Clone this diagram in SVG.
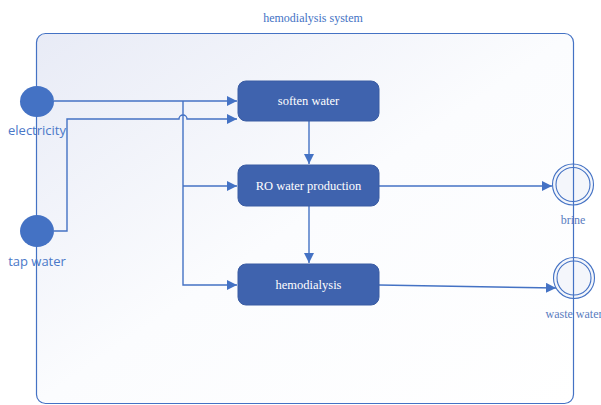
<svg xmlns="http://www.w3.org/2000/svg" width="601" height="405" viewBox="0 0 601 405">
<defs>
<linearGradient id="bg" x1="0" y1="0" x2="1" y2="1">
<stop offset="0" stop-color="#e8ebf6"/>
<stop offset="0.5" stop-color="#fbfcfe"/>
<stop offset="1" stop-color="#ffffff"/>
</linearGradient>
<marker id="arr" viewBox="0 0 10 10" refX="10" refY="5" markerWidth="10" markerHeight="10" markerUnits="userSpaceOnUse" orient="auto">
<path d="M0,0 L10,5 L0,10 z" fill="#4472c4"/>
</marker>
<style>
.box{fill:#3f63ae;stroke:#3a5ca3;stroke-width:1}
.bt{font-family:"Liberation Serif",serif;font-size:12.5px;fill:#ffffff;text-anchor:middle}
.lbl{font-family:"Open Sans","Noto Sans",sans-serif;font-size:13px;fill:#4a78c8;text-anchor:middle}
.slbl{font-family:"Liberation Serif",serif;font-size:12px;fill:#5a7cc0;text-anchor:middle}
.ln{fill:none;stroke:#4472c4;stroke-width:1.4}
.end{fill:#f4f6fb;stroke:#4472c4;stroke-width:1.1}
</style>
</defs>
<g id="system">
<rect x="36.5" y="33.5" width="537" height="370" rx="9" fill="url(#bg)" stroke="#4472c4" stroke-width="1.2"/>
<text x="313" y="22" font-family="Liberation Serif,serif" font-size="12" fill="#4472c4" text-anchor="middle">hemodialysis system</text>
</g>
<g id="connectors">
<path class="ln" d="M54,101 H237" marker-end="url(#arr)"/>
<path class="ln" d="M183,101 V285 H237" marker-end="url(#arr)"/>
<path class="ln" d="M183,186 H237" marker-end="url(#arr)"/>
<path class="ln" d="M54,231 H67 V119 H179 A4,4 0 0 1 187,119 H237" marker-end="url(#arr)"/>
<path class="ln" d="M309,121 V164" marker-end="url(#arr)"/>
<path class="ln" d="M309,206 V263" marker-end="url(#arr)"/>
<path class="ln" d="M379,186 H552" marker-end="url(#arr)"/>
<path class="ln" d="M379,285 L556,288" marker-end="url(#arr)"/>
</g>
<g id="electricity">
<ellipse cx="37" cy="101.5" rx="17" ry="15.5" fill="#4472c4"/>
<text class="lbl" x="37" y="135">electricity</text>
</g>
<g id="tap-water">
<ellipse cx="37" cy="231" rx="17" ry="16" fill="#4472c4"/>
<text class="lbl" x="37" y="266">tap water</text>
</g>
<g id="soften-water">
<rect class="box" x="238" y="81" width="141" height="40" rx="8"/>
<text class="bt" x="308.5" y="105">soften water</text>
</g>
<g id="ro-water-production">
<rect class="box" x="238" y="165" width="141" height="41" rx="8"/>
<text class="bt" x="308.5" y="190">RO water production</text>
</g>
<g id="hemodialysis">
<rect class="box" x="238" y="264" width="141" height="41" rx="8"/>
<text class="bt" x="308.5" y="289">hemodialysis</text>
</g>
<g id="brine">
<circle class="end" cx="573" cy="184.5" r="20.5"/>
<circle class="end" cx="573" cy="184.5" r="17"/>
<text class="slbl" x="573" y="224">brine</text>
</g>
<g id="waste-water">
<circle class="end" cx="574" cy="278" r="20.5"/>
<circle class="end" cx="574" cy="278" r="17"/>
<text class="slbl" x="574" y="318">waste water</text>
</g>
<line x1="573.5" y1="164" x2="573.5" y2="205" stroke="#4472c4" stroke-width="1.2"/>
<line x1="573.5" y1="257" x2="573.5" y2="299" stroke="#4472c4" stroke-width="1.2"/>
</svg>
